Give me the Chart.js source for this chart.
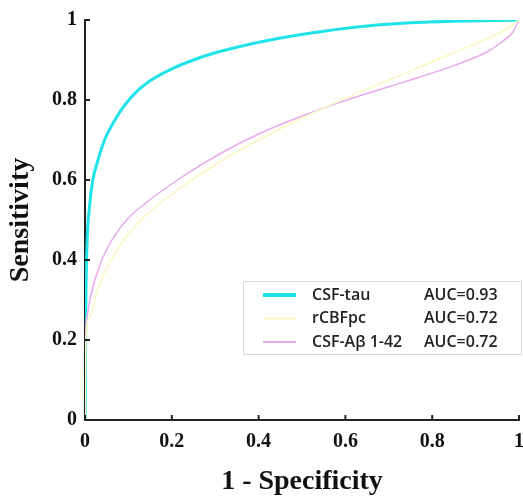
<!DOCTYPE html>
<html>
<head>
<meta charset="utf-8">
<script src="https://cdn.jsdelivr.net/npm/chart.js@4/dist/chart.umd.min.js"></script>
<style>
  html, body { margin: 0; padding: 0; background: #fff; }
  #wrap { width: 523px; height: 499px; }
</style>
</head>
<body>
<div id="wrap"><canvas id="roc"></canvas></div>
<script>
// Curve data (1 - specificity, sensitivity)
const seriesNames = ["CSF-tau", "rCBFpc", "CSF-A\u03B2 1-42"];
const aucLabels = ["AUC=0.93", "AUC=0.72", "AUC=0.72"];

const tauX = [0, 0.002, 0.005, 0.01, 0.018, 0.03, 0.04, 0.05, 0.07, 0.09, 0.12, 0.15, 0.2, 0.25, 0.3, 0.35, 0.45, 0.55, 0.65, 0.75, 0.85, 0.95, 1];
const tauY = [0, 0.30, 0.45, 0.53, 0.60, 0.65, 0.685, 0.712, 0.752, 0.785, 0.822, 0.848, 0.878, 0.9, 0.918, 0.932, 0.955, 0.972, 0.985, 0.993, 0.997, 0.999, 1];

const rcbfX = [0, 0.002, 0.012, 0.03, 0.065, 0.1, 0.143, 0.22, 0.31, 0.4, 0.5, 0.617, 0.7, 0.77, 0.85, 0.926, 0.97, 1];
const rcbfY = [0, 0.2, 0.26, 0.33, 0.41, 0.465, 0.515, 0.58, 0.645, 0.70, 0.755, 0.812, 0.85, 0.882, 0.918, 0.953, 0.976, 1];

const abetaX = [0, 0.001, 0.005, 0.012, 0.035, 0.065, 0.1, 0.143, 0.22, 0.31, 0.4, 0.465, 0.55, 0.617, 0.7, 0.77, 0.85, 0.926, 0.96, 0.986, 1];
const abetaY = [0, 0.2, 0.26, 0.305, 0.39, 0.455, 0.505, 0.545, 0.605, 0.665, 0.715, 0.745, 0.78, 0.805, 0.833, 0.857, 0.886, 0.92, 0.945, 0.97, 1];

const tickValues = [0, 0.2, 0.4, 0.6, 0.8, 1];

const lineColors = ["#1fe3e8", "#fbf8c0", "#eaa8ee"];
const lineWidths = [3, 1.5, 1.5];

function toPoints(xs, ys) {
  return xs.map((x, i) => ({ x: x, y: ys[i] }));
}

const serif = "'Liberation Serif', 'Times New Roman', serif";

// tick marks pointing into the plot + the legend box
const rocExtras = {
  id: "rocExtras",
  afterDraw(chart) {
    const ctx = chart.ctx;
    const xs = chart.scales.x;
    const ys = chart.scales.y;
    const area = chart.chartArea;
    ctx.save();
    ctx.strokeStyle = "#222";
    ctx.lineWidth = 2;
    tickValues.forEach((v) => {
      const px = xs.getPixelForValue(v);
      ctx.beginPath();
      ctx.moveTo(px, area.bottom);
      ctx.lineTo(px, area.bottom - 5);
      ctx.stroke();
      const py = ys.getPixelForValue(v);
      ctx.beginPath();
      ctx.moveTo(area.left, py);
      ctx.lineTo(area.left + 5, py);
      ctx.stroke();
    });

    // legend
    const bx = 243, by = 281, bw = 278, bh = 73;
    ctx.fillStyle = "#fff";
    ctx.fillRect(bx, by, bw, bh);
    ctx.strokeStyle = "#d8d8d8";
    ctx.lineWidth = 1;
    ctx.strokeRect(bx + 0.5, by + 0.5, bw, bh);
    ctx.font = "600 16px 'Open Sans', 'Noto Sans', sans-serif";
    ctx.textBaseline = "middle";
    seriesNames.forEach((name, i) => {
      const ry = by + 14 + i * 23.5;
      ctx.strokeStyle = lineColors[i];
      ctx.lineWidth = i === 0 ? 4 : 2;
      ctx.beginPath();
      ctx.moveTo(bx + 20, ry);
      ctx.lineTo(bx + 53, ry);
      ctx.stroke();
      ctx.fillStyle = "#222";
      ctx.textAlign = "left";
      ctx.fillText(name, bx + 69, ry);
      ctx.fillText(aucLabels[i], bx + 181, ry);
    });
    ctx.restore();
  }
};

const datasets = [
  { label: seriesNames[1], data: toPoints(rcbfX, rcbfY) },
  { label: seriesNames[2], data: toPoints(abetaX, abetaY) },
  { label: seriesNames[0], data: toPoints(tauX, tauY) }
].map((ds) => {
  const i = seriesNames.indexOf(ds.label);
  return Object.assign(ds, {
    showLine: true,
    borderColor: lineColors[i],
    backgroundColor: lineColors[i],
    borderWidth: lineWidths[i],
    pointRadius: 0,
    cubicInterpolationMode: "monotone",
    fill: false
  });
});

new Chart(document.getElementById("roc"), {
  type: "scatter",
  data: { datasets: datasets },
  options: {
    responsive: true,
    maintainAspectRatio: false,
    animation: false,
    layout: { padding: { left: 0, right: 4, top: 20, bottom: 0 } },
    plugins: {
      legend: { display: false },
      tooltip: { enabled: false }
    },
    scales: {
      x: {
        type: "linear",
        min: 0,
        max: 1,
        afterBuildTicks: (scale) => { scale.ticks = tickValues.map((v) => ({ value: v })); },
        afterFit: (scale) => {
          scale.height = 79;
          scale.paddingLeft = 0;
          scale.paddingRight = 0;
        },
        grid: { display: false, drawTicks: false },
        border: { display: true, color: "#222", width: 2 },
        ticks: {
          color: "#111",
          padding: 10,
          maxRotation: 0,
          font: { family: serif, size: 20, weight: "bold" },
          callback: (v) => (v === 0 || v === 1 ? String(v) : v.toFixed(1))
        },
        title: {
          display: true,
          text: "1 - Specificity",
          color: "#111",
          padding: { top: 0, bottom: 0 },
          font: { family: serif, size: 28, weight: "bold" }
        }
      },
      y: {
        type: "linear",
        min: 0,
        max: 1,
        afterBuildTicks: (scale) => { scale.ticks = tickValues.map((v) => ({ value: v })); },
        afterFit: (scale) => {
          scale.width = 85;
          scale.paddingTop = 0;
          scale.paddingBottom = 0;
        },
        grid: { display: false, drawTicks: false },
        border: { display: true, color: "#222", width: 2 },
        ticks: {
          color: "#111",
          padding: 8,
          font: { family: serif, size: 20, weight: "bold" },
          callback: (v) => (v === 0 || v === 1 ? String(v) : v.toFixed(1))
        },
        title: {
          display: true,
          text: "Sensitivity",
          color: "#111",
          padding: { top: 4, bottom: 0 },
          font: { family: serif, size: 28, weight: "bold" }
        }
      }
    }
  },
  plugins: [rocExtras]
});
</script>
</body>
</html>
